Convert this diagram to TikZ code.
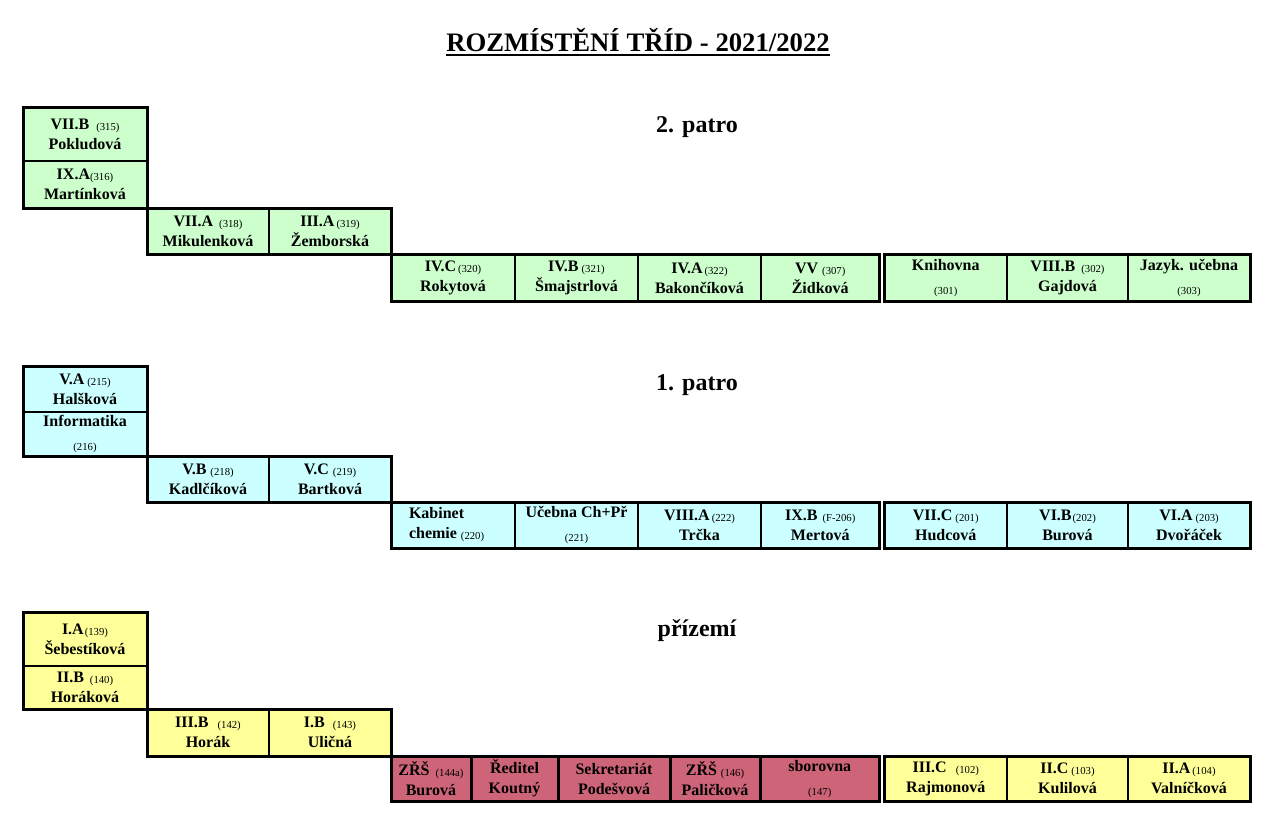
\documentclass[tikz,border=0pt]{standalone}
\usepackage{fontspec}
\setmainfont{Liberation Serif}
\definecolor{gr}{RGB}{204,255,204}
\definecolor{cy}{RGB}{204,255,255}
\definecolor{ye}{RGB}{255,255,153}
\definecolor{ro}{RGB}{206,100,120}
\newcommand\roomno[2][2pt]{\hspace{#1}\raisebox{-1pt}{\mdseries\fontsize{10.7}{12}\selectfont #2}}
\newcommand\cellbox[8][]{%
  \pgfmathsetmacro\cbw{#5-#3}\pgfmathsetmacro\cbh{#6-#4}%
  \node[cellnode, fill=#7, minimum width=\cbw pt, minimum height=\cbh pt, #1] (#2) at ({(#3+#5)/2},{(#4+#6)/2}) {#8};}
\begin{document}
\begin{tikzpicture}[x=1pt,y=-1pt,
  cellnode/.style={draw, line width=1.3pt, inner sep=0pt, outer sep=0pt, align=center,
    font=\bfseries\fontsize{16}{20}\selectfont},
  rosecell/.style={line width=3pt},
  blockframe/.style={line width=3pt},
  floorlabel/.style={font=\bfseries\fontsize{24}{28}\selectfont, anchor=base, inner sep=0pt}]
\fill[white] (0,0) rectangle (1274,831);
\useasboundingbox (0,0) rectangle (1274,831);

% title
\node[font=\bfseries\fontsize{26.7}{30}\selectfont, anchor=base, inner sep=0pt] (title) at (638,51) {ROZMÍSTĚNÍ TŘÍD - 2021/2022};
\draw[line width=2pt] ([yshift=-4pt]title.base west) -- ([yshift=-4pt]title.base east);

% ---------------- 2. patro
\node[floorlabel] (f2) at (697,132) {2. patro};
\cellbox{a1}{23}{107}{147}{161}{gr}{VII.B\roomno[7pt]{(315)}\\Pokludová}
\cellbox{a2}{23}{161}{147}{208}{gr}{IX.A\roomno[0pt]{(316)}\\Martínková}
\cellbox{a3}{147}{208}{269}{254.5}{gr}{VII.A\roomno[6pt]{(318)}\\Mikulenková}
\cellbox{a4}{269}{208}{391}{254.5}{gr}{III.A\roomno[2pt]{(319)}\\Žemborská}
\cellbox{a5}{391}{254.5}{515}{301.5}{gr}{IV.C\roomno[2pt]{(320)}\\Rokytová}
\cellbox{a6}{515}{254.5}{638}{301.5}{gr}{IV.B\roomno[3pt]{(321)}\\Šmajstrlová}
\cellbox{a7}{638}{254.5}{761}{301.5}{gr}{IV.A\roomno[2pt]{(322)}\\Bakončíková}
\cellbox{a8}{761}{254.5}{879.5}{301.5}{gr}{VV\roomno[4pt]{(307)}\\Židková}
\cellbox{a9}{884.5}{254.5}{1007}{301.5}{gr}{Knihovna\\[3pt]\roomno[0pt]{(301)}}
\cellbox{a10}{1007}{254.5}{1128}{301.5}{gr}{VIII.B\roomno[6pt]{(302)}\\Gajdová}
\cellbox{a11}{1128}{254.5}{1250}{301.5}{gr}{Jazyk. učebna\\[3pt]\roomno[0pt]{(303)}}
\draw[blockframe] (a1.north west) rectangle (a2.south east);
\draw[blockframe] (a3.north west) rectangle (a4.south east);
\draw[blockframe] (a5.north west) rectangle (a8.south east);
\draw[blockframe] (a9.north west) rectangle (a11.south east);

% ---------------- 1. patro
\node[floorlabel] (f1) at (697,390) {1. patro};
\cellbox{b1}{23}{366}{147}{412}{cy}{V.A\roomno[3pt]{(215)}\\Halšková}
\cellbox{b2}{23}{412}{147}{456}{cy}{Informatika\\[3pt]\roomno[0pt]{(216)}}
\cellbox{b3}{147}{456}{269}{502}{cy}{V.B\roomno[4pt]{(218)}\\Kadlčíková}
\cellbox{b4}{269}{456}{391}{502}{cy}{V.C\roomno[4pt]{(219)}\\Bartková}
\cellbox[align=left, text width=88pt, inner xsep=18pt]{b5}{391}{502}{515}{548}{cy}{Kabinet\\chemie\roomno[4pt]{(220)}}
\cellbox{b6}{515}{502}{638}{548}{cy}{Učebna Ch+Př\\[3pt]\roomno[0pt]{(221)}}
\cellbox{b7}{638}{502}{761}{548}{cy}{VIII.A\roomno[2pt]{(222)}\\Trčka}
\cellbox{b8}{761}{502}{879.5}{548}{cy}{IX.B\roomno[5pt]{(F-206)}\\Mertová}
\cellbox{b9}{884.5}{502}{1007}{548}{cy}{VII.C\roomno[3pt]{(201)}\\Hudcová}
\cellbox{b10}{1007}{502}{1128}{548}{cy}{VI.B\roomno[1pt]{(202)}\\Burová}
\cellbox{b11}{1128}{502}{1250}{548}{cy}{VI.A\roomno[3pt]{(203)}\\Dvořáček}
\draw[blockframe] (b1.north west) rectangle (b2.south east);
\draw[blockframe] (b3.north west) rectangle (b4.south east);
\draw[blockframe] (b5.north west) rectangle (b8.south east);
\draw[blockframe] (b9.north west) rectangle (b11.south east);

% ---------------- přízemí
\node[floorlabel] (f0) at (697,636) {přízemí};
\cellbox{c1}{23}{612}{147}{666}{ye}{I.A\roomno[1pt]{(139)}\\Šebestíková}
\cellbox{c2}{23}{666}{147}{709.5}{ye}{II.B\roomno[6pt]{(140)}\\Horáková}
\cellbox{c3}{147}{709.5}{269}{756}{ye}{III.B\roomno[9pt]{(142)}\\Horák}
\cellbox{c4}{269}{709.5}{391}{756}{ye}{I.B\roomno[8pt]{(143)}\\Uličná}
\cellbox[rosecell]{c5}{391}{756}{471}{801.5}{ro}{ZŘŠ\roomno[6pt]{(144a)}\\Burová}
\cellbox[rosecell]{c6}{471}{756}{558}{801.5}{ro}{Ředitel\\Koutný}
\cellbox[rosecell]{c7}{558}{756}{670}{801.5}{ro}{Sekretariát\\Podešvová}
\cellbox[rosecell]{c8}{670}{756}{760}{801.5}{ro}{ZŘŠ\roomno[4pt]{(146)}\\Paličková}
\cellbox[rosecell]{c9}{760}{756}{879.5}{801.5}{ro}{sborovna\\[3pt]\roomno[0pt]{(147)}}
\cellbox{c10}{884.5}{756}{1007}{801.5}{ye}{III.C\roomno[9pt]{(102)}\\Rajmonová}
\cellbox{c11}{1007}{756}{1128}{801.5}{ye}{II.C\roomno[3pt]{(103)}\\Kulilová}
\cellbox{c12}{1128}{756}{1250}{801.5}{ye}{II.A\roomno[2pt]{(104)}\\Valníčková}
\draw[blockframe] (c1.north west) rectangle (c2.south east);
\draw[blockframe] (c3.north west) rectangle (c4.south east);
\draw[blockframe] (c5.north west) rectangle (c9.south east);
\draw[blockframe] (c10.north west) rectangle (c12.south east);
\end{tikzpicture}
\end{document}
